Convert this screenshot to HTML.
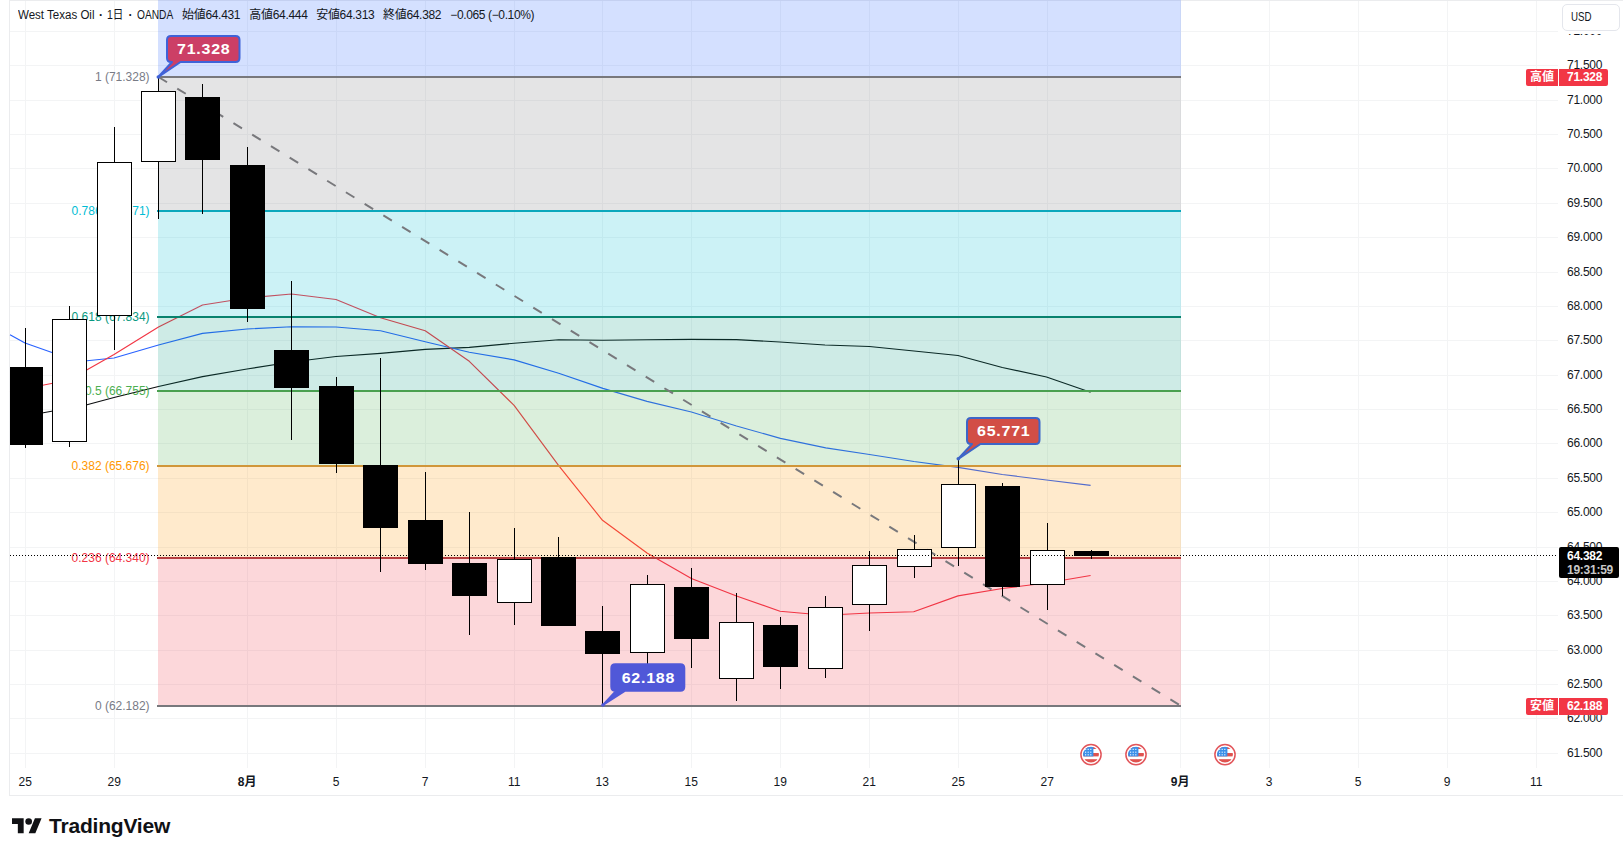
<!DOCTYPE html>
<html lang="ja"><head><meta charset="utf-8"><title>West Texas Oil</title>
<style>
html,body{margin:0;padding:0;background:#fff;}
body{width:1623px;height:847px;position:relative;overflow:hidden;font-family:"Liberation Sans","Noto Sans CJK JP",sans-serif;font-size:12px;color:#131722;}
.chart{position:absolute;left:0;top:0;}
.bd{position:absolute;background:#ebecee;}
.t{position:absolute;white-space:nowrap;line-height:14px;height:14px;}
.pl{left:1567px;letter-spacing:-0.25px;}
.dl{transform:translateX(-50%);text-align:center;top:775px;}
.fl{right:1473.4px;text-align:right;}
.b{font-weight:bold;}
.sx{display:inline-block;white-space:pre;vertical-align:top;}
.sx>span{display:inline-block;transform-origin:0 0;white-space:pre;}
.lg{top:8px;}
.tag{position:absolute;height:17px;line-height:17px;background:#f23645;color:#fff;white-space:nowrap;font-weight:bold;}
.co{position:absolute;color:#fff;font-weight:bold;font-size:16px;line-height:18px;white-space:nowrap;letter-spacing:0.75px;transform:scaleY(0.94);transform-origin:0 14px;}
</style></head><body>
<div class="bd" style="left:9px;top:0;width:1614px;height:1px"></div>
<div class="bd" style="left:9px;top:0;width:1px;height:796px"></div>
<div class="bd" style="left:9px;top:795px;width:1614px;height:1px"></div>
<svg class="chart" width="1623" height="847" viewBox="0 0 1623 847">
<g fill="#f3f4f5" shape-rendering="crispEdges">
<rect x="25" y="1" width="1" height="767"/>
<rect x="114" y="1" width="1" height="767"/>
<rect x="247" y="1" width="1" height="767"/>
<rect x="336" y="1" width="1" height="767"/>
<rect x="425" y="1" width="1" height="767"/>
<rect x="514" y="1" width="1" height="767"/>
<rect x="602" y="1" width="1" height="767"/>
<rect x="691" y="1" width="1" height="767"/>
<rect x="780" y="1" width="1" height="767"/>
<rect x="869" y="1" width="1" height="767"/>
<rect x="958" y="1" width="1" height="767"/>
<rect x="1047" y="1" width="1" height="767"/>
<rect x="1180" y="1" width="1" height="767"/>
<rect x="1269" y="1" width="1" height="767"/>
<rect x="1358" y="1" width="1" height="767"/>
<rect x="1447" y="1" width="1" height="767"/>
<rect x="1536" y="1" width="1" height="767"/>
<rect x="10" y="31" width="1548" height="1"/>
<rect x="10" y="65" width="1548" height="1"/>
<rect x="10" y="100" width="1548" height="1"/>
<rect x="10" y="134" width="1548" height="1"/>
<rect x="10" y="168" width="1548" height="1"/>
<rect x="10" y="203" width="1548" height="1"/>
<rect x="10" y="237" width="1548" height="1"/>
<rect x="10" y="272" width="1548" height="1"/>
<rect x="10" y="306" width="1548" height="1"/>
<rect x="10" y="340" width="1548" height="1"/>
<rect x="10" y="375" width="1548" height="1"/>
<rect x="10" y="409" width="1548" height="1"/>
<rect x="10" y="443" width="1548" height="1"/>
<rect x="10" y="478" width="1548" height="1"/>
<rect x="10" y="512" width="1548" height="1"/>
<rect x="10" y="547" width="1548" height="1"/>
<rect x="10" y="581" width="1548" height="1"/>
<rect x="10" y="615" width="1548" height="1"/>
<rect x="10" y="650" width="1548" height="1"/>
<rect x="10" y="684" width="1548" height="1"/>
<rect x="10" y="718" width="1548" height="1"/>
<rect x="10" y="753" width="1548" height="1"/>
</g>
<polyline points="10,419 42,413 87,404.7 114,397.5 158.5,386.5 202.5,376.6 247,369 291.5,362 336,356.5 380.5,353.4 425.2,349.4 469.3,347.4 514.1,343.2 558.7,339.8 602.9,340.2 647,339.8 691.4,339.4 736.5,339.6 780,342 825,345 869.4,346.5 914,351 958,355.5 1002.3,367.5 1046.5,377 1090.6,392.2" fill="none" stroke="#0c0e10" stroke-width="1.15" stroke-linejoin="round"/>
<polyline points="10,334.7 25,343 69,358.5 87,360.7 114,358 158.5,345 202.5,333.4 247,329 291.5,326.7 336,327 380.5,330.8 425.2,341.8 469.3,352.2 514.1,359.9 558.7,373.3 602.9,388.4 647,401.4 691.4,412 736.5,426 780.4,438.4 825.8,447.9 869.5,454.5 914,461.5 958,467.4 1002.3,474.5 1046.5,480 1090.6,485.4" fill="none" stroke="#2962ff" stroke-width="1.15" stroke-linejoin="round"/>
<polyline points="10,391.5 25,388.8 69,380 114,354.5 158.5,327 202.5,305 247,298 291.5,294 336,299.5 380.5,317.7 425.2,330.8 469.3,361.3 514.1,405.4 558.7,465.7 602.5,520.3 647,553 691.4,578.5 736.5,596 780,611.2 825,615.3 869.4,613 913.7,611.7 958,595.9 1002.3,588.5 1046.5,583 1090.6,575.5" fill="none" stroke="#f23645" stroke-width="1.15" stroke-linejoin="round"/>
<g shape-rendering="crispEdges" fill-opacity="0.2">
<rect x="158" y="0" width="1023" height="77" fill="#2962ff"/>
<rect x="158" y="77" width="1023" height="134" fill="#7a7a7c"/>
<rect x="158" y="211" width="1023" height="106" fill="#00bcd4"/>
<rect x="158" y="317" width="1023" height="74" fill="#089981"/>
<rect x="158" y="391" width="1023" height="75" fill="#4caf50"/>
<rect x="158" y="466" width="1023" height="92" fill="#ff9800"/>
<rect x="158" y="558" width="1023" height="148" fill="#f23645"/>
</g>
<g shape-rendering="crispEdges">
<rect x="157" y="76" width="1024" height="2" fill="#78787c"/>
<rect x="157" y="210" width="1024" height="2" fill="#0aa8bc"/>
<rect x="157" y="316" width="1024" height="2" fill="#08826e"/>
<rect x="157" y="390" width="1024" height="2" fill="#4aa050"/>
<rect x="157" y="465" width="1024" height="2" fill="#d0963a"/>
<rect x="157" y="557" width="1024" height="2" fill="#b63e40"/>
<rect x="157" y="705" width="1024" height="2" fill="#78787c"/>
</g>
<line x1="158.5" y1="77" x2="1181" y2="706" stroke="#78787c" stroke-width="2" stroke-dasharray="10 12"/>
</svg>
<div class="t fl" style="top:69.5px;color:#787b86">1 (71.328)</div>
<div class="t fl" style="top:203.5px;color:#00bcd4">0.786 (69.371)</div>
<div class="t fl" style="top:309.5px;color:#089981">0.618 (67.834)</div>
<div class="t fl" style="top:383.5px;color:#4caf50">0.5 (66.755)</div>
<div class="t fl" style="top:458.5px;color:#ff9800">0.382 (65.676)</div>
<div class="t fl" style="top:550.5px;color:#f23645">0.236 (64.340)</div>
<div class="t fl" style="top:698.5px;color:#787b86">0 (62.182)</div>
<svg class="chart" width="1623" height="847" viewBox="0 0 1623 847">
<g shape-rendering="crispEdges">
<rect x="25" y="328" width="1" height="120" fill="#000"/>
<rect x="10" y="367" width="33" height="78" fill="#000"/>
<rect x="69" y="306" width="1" height="141" fill="#000"/>
<rect x="52" y="319" width="35" height="123" fill="#000"/>
<rect x="53" y="320" width="33" height="121" fill="#fff"/>
<rect x="114" y="127" width="1" height="223" fill="#000"/>
<rect x="97" y="162" width="35" height="154" fill="#000"/>
<rect x="98" y="163" width="33" height="152" fill="#fff"/>
<rect x="158" y="77" width="1" height="142" fill="#000"/>
<rect x="141" y="91" width="35" height="71" fill="#000"/>
<rect x="142" y="92" width="33" height="69" fill="#fff"/>
<rect x="202" y="84" width="1" height="130" fill="#000"/>
<rect x="185" y="97" width="35" height="63" fill="#000"/>
<rect x="247" y="147" width="1" height="175" fill="#000"/>
<rect x="230" y="165" width="35" height="144" fill="#000"/>
<rect x="291" y="281" width="1" height="159" fill="#000"/>
<rect x="274" y="350" width="35" height="38" fill="#000"/>
<rect x="336" y="377" width="1" height="96" fill="#000"/>
<rect x="319" y="386" width="35" height="78" fill="#000"/>
<rect x="380" y="358" width="1" height="214" fill="#000"/>
<rect x="363" y="465" width="35" height="63" fill="#000"/>
<rect x="425" y="472" width="1" height="98" fill="#000"/>
<rect x="408" y="520" width="35" height="44" fill="#000"/>
<rect x="469" y="512" width="1" height="123" fill="#000"/>
<rect x="452" y="563" width="35" height="33" fill="#000"/>
<rect x="514" y="528" width="1" height="97" fill="#000"/>
<rect x="497" y="559" width="35" height="44" fill="#000"/>
<rect x="498" y="560" width="33" height="42" fill="#fff"/>
<rect x="558" y="537" width="1" height="89" fill="#000"/>
<rect x="541" y="557" width="35" height="69" fill="#000"/>
<rect x="602" y="606" width="1" height="100" fill="#000"/>
<rect x="585" y="631" width="35" height="23" fill="#000"/>
<rect x="647" y="575" width="1" height="91" fill="#000"/>
<rect x="630" y="584" width="35" height="69" fill="#000"/>
<rect x="631" y="585" width="33" height="67" fill="#fff"/>
<rect x="691" y="568" width="1" height="100" fill="#000"/>
<rect x="674" y="587" width="35" height="52" fill="#000"/>
<rect x="736" y="593" width="1" height="108" fill="#000"/>
<rect x="719" y="622" width="35" height="57" fill="#000"/>
<rect x="720" y="623" width="33" height="55" fill="#fff"/>
<rect x="780" y="617" width="1" height="72" fill="#000"/>
<rect x="763" y="625" width="35" height="42" fill="#000"/>
<rect x="825" y="596" width="1" height="82" fill="#000"/>
<rect x="808" y="607" width="35" height="62" fill="#000"/>
<rect x="809" y="608" width="33" height="60" fill="#fff"/>
<rect x="869" y="551" width="1" height="80" fill="#000"/>
<rect x="852" y="565" width="35" height="40" fill="#000"/>
<rect x="853" y="566" width="33" height="38" fill="#fff"/>
<rect x="914" y="535" width="1" height="43" fill="#000"/>
<rect x="897" y="549" width="35" height="18" fill="#000"/>
<rect x="898" y="550" width="33" height="16" fill="#fff"/>
<rect x="958" y="459" width="1" height="107" fill="#000"/>
<rect x="941" y="484" width="35" height="64" fill="#000"/>
<rect x="942" y="485" width="33" height="62" fill="#fff"/>
<rect x="1002" y="483" width="1" height="113" fill="#000"/>
<rect x="985" y="486" width="35" height="101" fill="#000"/>
<rect x="1047" y="523" width="1" height="87" fill="#000"/>
<rect x="1030" y="550" width="35" height="35" fill="#000"/>
<rect x="1031" y="551" width="33" height="33" fill="#fff"/>
<rect x="1091" y="550" width="1" height="9" fill="#000"/>
<rect x="1074" y="551" width="35" height="5" fill="#000"/>
</g>
<line x1="10" y1="555.5" x2="1557" y2="555.5" stroke="#000" stroke-width="1" stroke-dasharray="1 2" shape-rendering="crispEdges"/>
<path d="M171,36 H235.5 Q239.5,36 239.5,40 V58 Q239.5,62 235.5,62 H180.5 L158.3,77 L172,62 H171 Q167,62 167,58 V40 Q167,36 171,36 Z" fill="#cc3f66" stroke="#3f62d8" stroke-width="2" stroke-linejoin="round"/><circle cx="158.3" cy="77" r="1.8" fill="#3f62d8"/>
<path d="M971,418 H1035.5 Q1039.5,418 1039.5,422 V440 Q1039.5,444 1035.5,444 H980.5 L958.3,458.8 L972,444 H971 Q967,444 967,440 V422 Q967,418 971,418 Z" fill="#d24e46" stroke="#3d66c8" stroke-width="2" stroke-linejoin="round"/><circle cx="958.3" cy="458.8" r="1.8" fill="#3d66c8"/>
<path d="M615.3,664.3 H680.3 Q684.3,664.3 684.3,668.3 V686.8 Q684.3,690.8 680.3,690.8 H624.8 L603,705 L616.3,690.8 H615.3 Q611.3,690.8 611.3,686.8 V668.3 Q611.3,664.3 615.3,664.3 Z" fill="#5058d8" stroke="#5058d8" stroke-width="2" stroke-linejoin="round"/><circle cx="603" cy="705" r="1.8" fill="#5058d8"/>
<g transform="translate(1091,754.6)"><circle r="10.1" fill="#fff" stroke="#e2555a" stroke-width="1.5"/><clipPath id="fc1091"><circle r="7.9"/></clipPath><g clip-path="url(#fc1091)"><rect x="-8" y="-8" width="16" height="16" fill="#fff"/><rect x="-8" y="-8" width="16" height="2.4" fill="#e0524f"/><rect x="-8" y="-1.6" width="16" height="3.4" fill="#e0524f"/><rect x="-8" y="4.6" width="16" height="4" fill="#e0524f"/><rect x="-8" y="-8" width="10.4" height="9.8" fill="#3b8fe8"/><rect x="-6.0" y="-5.8" width="1.2" height="1.2" fill="#dff0ff"/><rect x="-3.4" y="-5.8" width="1.2" height="1.2" fill="#dff0ff"/><rect x="-0.8" y="-5.8" width="1.2" height="1.2" fill="#dff0ff"/><rect x="-6.0" y="-3.0" width="1.2" height="1.2" fill="#dff0ff"/><rect x="-3.4" y="-3.0" width="1.2" height="1.2" fill="#dff0ff"/><rect x="-0.8" y="-3.0" width="1.2" height="1.2" fill="#dff0ff"/><rect x="-6.0" y="-0.39999999999999997" width="1.2" height="1.2" fill="#dff0ff"/><rect x="-3.4" y="-0.39999999999999997" width="1.2" height="1.2" fill="#dff0ff"/><rect x="-0.8" y="-0.39999999999999997" width="1.2" height="1.2" fill="#dff0ff"/></g></g>
<g transform="translate(1136,754.6)"><circle r="10.1" fill="#fff" stroke="#e2555a" stroke-width="1.5"/><clipPath id="fc1136"><circle r="7.9"/></clipPath><g clip-path="url(#fc1136)"><rect x="-8" y="-8" width="16" height="16" fill="#fff"/><rect x="-8" y="-8" width="16" height="2.4" fill="#e0524f"/><rect x="-8" y="-1.6" width="16" height="3.4" fill="#e0524f"/><rect x="-8" y="4.6" width="16" height="4" fill="#e0524f"/><rect x="-8" y="-8" width="10.4" height="9.8" fill="#3b8fe8"/><rect x="-6.0" y="-5.8" width="1.2" height="1.2" fill="#dff0ff"/><rect x="-3.4" y="-5.8" width="1.2" height="1.2" fill="#dff0ff"/><rect x="-0.8" y="-5.8" width="1.2" height="1.2" fill="#dff0ff"/><rect x="-6.0" y="-3.0" width="1.2" height="1.2" fill="#dff0ff"/><rect x="-3.4" y="-3.0" width="1.2" height="1.2" fill="#dff0ff"/><rect x="-0.8" y="-3.0" width="1.2" height="1.2" fill="#dff0ff"/><rect x="-6.0" y="-0.39999999999999997" width="1.2" height="1.2" fill="#dff0ff"/><rect x="-3.4" y="-0.39999999999999997" width="1.2" height="1.2" fill="#dff0ff"/><rect x="-0.8" y="-0.39999999999999997" width="1.2" height="1.2" fill="#dff0ff"/></g></g>
<g transform="translate(1225,754.6)"><circle r="10.1" fill="#fff" stroke="#e2555a" stroke-width="1.5"/><clipPath id="fc1225"><circle r="7.9"/></clipPath><g clip-path="url(#fc1225)"><rect x="-8" y="-8" width="16" height="16" fill="#fff"/><rect x="-8" y="-8" width="16" height="2.4" fill="#e0524f"/><rect x="-8" y="-1.6" width="16" height="3.4" fill="#e0524f"/><rect x="-8" y="4.6" width="16" height="4" fill="#e0524f"/><rect x="-8" y="-8" width="10.4" height="9.8" fill="#3b8fe8"/><rect x="-6.0" y="-5.8" width="1.2" height="1.2" fill="#dff0ff"/><rect x="-3.4" y="-5.8" width="1.2" height="1.2" fill="#dff0ff"/><rect x="-0.8" y="-5.8" width="1.2" height="1.2" fill="#dff0ff"/><rect x="-6.0" y="-3.0" width="1.2" height="1.2" fill="#dff0ff"/><rect x="-3.4" y="-3.0" width="1.2" height="1.2" fill="#dff0ff"/><rect x="-0.8" y="-3.0" width="1.2" height="1.2" fill="#dff0ff"/><rect x="-6.0" y="-0.39999999999999997" width="1.2" height="1.2" fill="#dff0ff"/><rect x="-3.4" y="-0.39999999999999997" width="1.2" height="1.2" fill="#dff0ff"/><rect x="-0.8" y="-0.39999999999999997" width="1.2" height="1.2" fill="#dff0ff"/></g></g>
<g transform="translate(12,814.8) scale(0.8333)" fill="#101114"><path d="M14 22H7V11H0V4h14v18zM28 22h-8l7.5-18h8L28 22z"/><circle cx="20" cy="8" r="4"/></g>
</svg>
<div class="t lg" style="left:18px"><span class="sx" style="width:76.5px"><span style="transform:scaleX(0.961)">West Texas Oil</span></span><span class="sx" style="width:12.8px;text-align:center"><span class="b"> · </span></span><span class="sx" style="width:16.4px"><span style="transform:scaleX(0.877)">1日</span></span><span class="sx" style="width:13.5px;text-align:center"><span class="b"> · </span></span><span class="sx" style="width:36.2px"><span style="transform:scaleX(0.848)">OANDA</span></span></div>
<div class="t lg" style="left:182px;letter-spacing:-0.31px">始値64.431</div>
<div class="t lg" style="left:249.3px;letter-spacing:-0.31px">高値64.444</div>
<div class="t lg" style="left:316.2px;letter-spacing:-0.31px">安値64.313</div>
<div class="t lg" style="left:383px;letter-spacing:-0.31px">終値64.382</div>
<div class="t lg" style="left:450.3px;letter-spacing:-0.37px">−0.065 (−0.10%)</div>
<div class="t pl" style="top:23.5px">72.000</div>
<div class="t pl" style="top:57.5px">71.500</div>
<div class="t pl" style="top:92.5px">71.000</div>
<div class="t pl" style="top:126.5px">70.500</div>
<div class="t pl" style="top:160.5px">70.000</div>
<div class="t pl" style="top:195.5px">69.500</div>
<div class="t pl" style="top:229.5px">69.000</div>
<div class="t pl" style="top:264.5px">68.500</div>
<div class="t pl" style="top:298.5px">68.000</div>
<div class="t pl" style="top:332.5px">67.500</div>
<div class="t pl" style="top:367.5px">67.000</div>
<div class="t pl" style="top:401.5px">66.500</div>
<div class="t pl" style="top:435.5px">66.000</div>
<div class="t pl" style="top:470.5px">65.500</div>
<div class="t pl" style="top:504.5px">65.000</div>
<div class="t pl" style="top:539.5px">64.500</div>
<div class="t pl" style="top:573.5px">64.000</div>
<div class="t pl" style="top:607.5px">63.500</div>
<div class="t pl" style="top:642.5px">63.000</div>
<div class="t pl" style="top:676.5px">62.500</div>
<div class="t pl" style="top:710.5px">62.000</div>
<div class="t pl" style="top:745.5px">61.500</div>
<div class="t dl" style="left:25.2px">25</div>
<div class="t dl" style="left:114.2px">29</div>
<div class="t dl b" style="left:247.2px">8月</div>
<div class="t dl" style="left:336.2px">5</div>
<div class="t dl" style="left:425.2px">7</div>
<div class="t dl" style="left:514.2px">11</div>
<div class="t dl" style="left:602.2px">13</div>
<div class="t dl" style="left:691.2px">15</div>
<div class="t dl" style="left:780.2px">19</div>
<div class="t dl" style="left:869.2px">21</div>
<div class="t dl" style="left:958.2px">25</div>
<div class="t dl" style="left:1047.2px">27</div>
<div class="t dl b" style="left:1180.2px">9月</div>
<div class="t dl" style="left:1269.2px">3</div>
<div class="t dl" style="left:1358.2px">5</div>
<div class="t dl" style="left:1447.2px">9</div>
<div class="t dl" style="left:1536.2px">11</div>
<div style="position:absolute;left:1562px;top:4px;width:56px;height:25px;border:1px solid #e4e6ec;border-radius:5px;background:#fff;box-shadow:0 0 0 3px #fff"></div>
<div class="t" style="left:1571.2px;top:10.3px;transform:scaleX(0.81);transform-origin:0 0">USD</div>
<div class="tag" style="left:1526px;top:69px;width:32px;border-radius:2px 0 0 2px;text-align:center">高値</div>
<div class="tag" style="left:1559px;top:69px;width:49px;border-radius:0 2px 2px 0"><span style="margin-left:8px;letter-spacing:-0.25px">71.328</span></div>
<div class="tag" style="left:1526px;top:698px;width:32px;border-radius:2px 0 0 2px;text-align:center">安値</div>
<div class="tag" style="left:1559px;top:698px;width:49px;border-radius:0 2px 2px 0"><span style="margin-left:8px;letter-spacing:-0.25px">62.188</span></div>
<div style="position:absolute;left:1559px;top:547px;width:60px;height:31px;background:#000;border-radius:2px"></div>
<div class="t" style="left:1567px;top:548.5px;color:#fff;letter-spacing:-0.25px;font-weight:bold">64.382</div>
<div class="t" style="left:1567px;top:562.5px;color:#c8c8c8;letter-spacing:-0.25px;font-weight:bold">19:31:59</div>
<div class="co" style="left:177px;top:40px">71.328</div>
<div class="co" style="left:977px;top:422px">65.771</div>
<div class="co" style="left:621.7px;top:668.5px">62.188</div>
<div class="t b" style="left:49px;top:812px;font-size:21px;line-height:28px;height:28px;letter-spacing:-0.2px;color:#101114">TradingView</div>
</body></html>
